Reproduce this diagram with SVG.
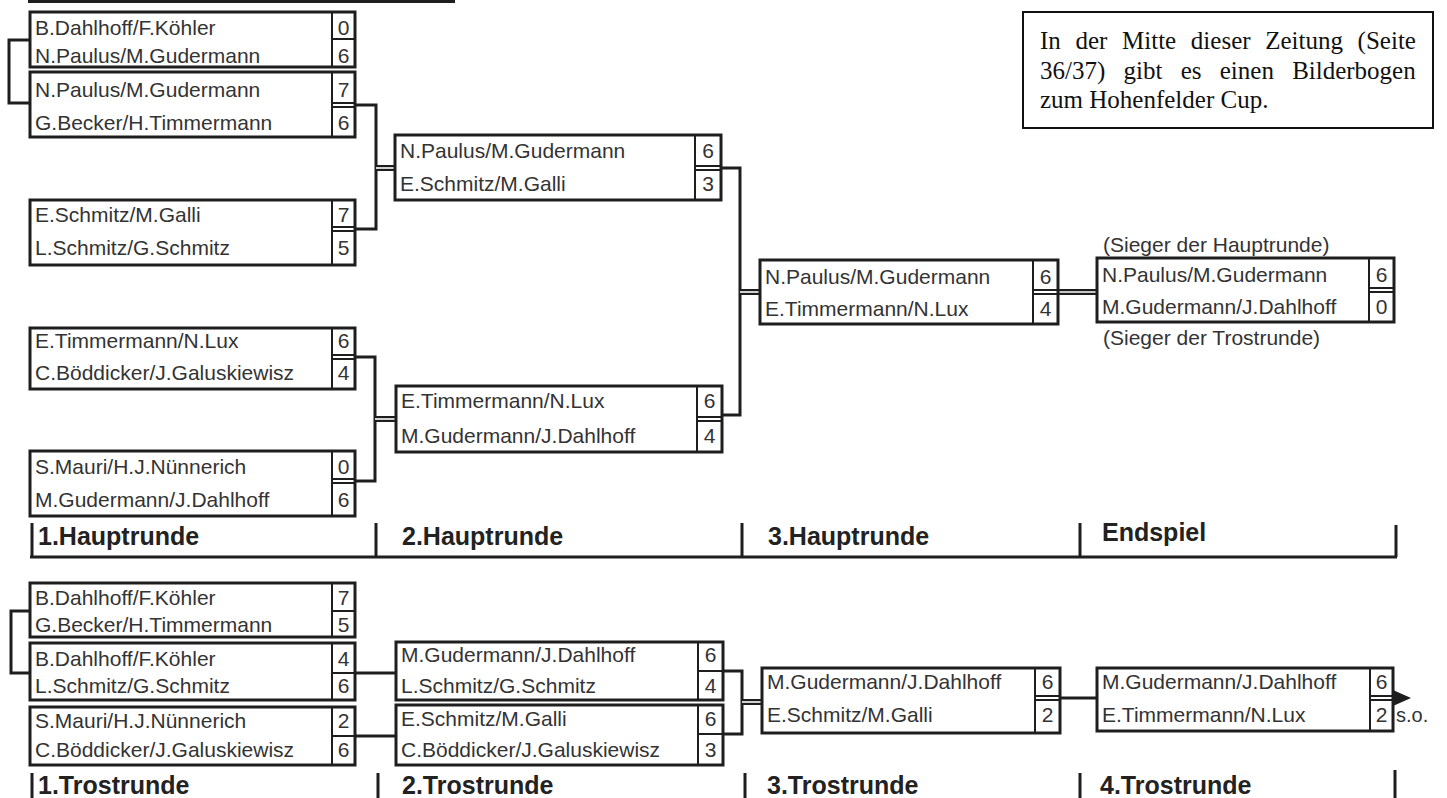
<svg xmlns="http://www.w3.org/2000/svg" width="1447" height="798" viewBox="0 0 1447 798">
<style>
.bx{fill:#fff;stroke:#1e1e1e;stroke-width:3}
.sd{stroke:#1e1e1e;stroke-width:2;fill:none}
.con{stroke:#1e1e1e;stroke-width:3;fill:none}
.dbl{stroke:#1e1e1e;stroke-width:6;fill:none}
.dbw{stroke:#fff;stroke-width:1.6;fill:none}
.nm{font-family:"Liberation Sans",Arial,sans-serif;font-size:21px;fill:#333}
.sc{font-family:"Liberation Sans",Arial,sans-serif;font-size:21px;fill:#333;text-anchor:middle}
.lb{font-family:"Liberation Sans",Arial,sans-serif;font-size:25px;font-weight:bold;fill:#222}
.info{font-family:"Liberation Serif","Times New Roman",serif;font-size:25px;fill:#111}
</style>
<rect width="1447" height="798" fill="#fff"/>
<g id="connectors">
<path class="con" d="M28,1.5H455"/>
<path class="con" d="M30,40H9V103H30"/>
<path class="con" d="M355,105H376V229H355"/>
<path class="dbl" d="M376,168H395"/><path class="dbw" d="M376,168H395"/>
<path class="con" d="M355,357H375V481H355"/>
<path class="dbl" d="M375,419H396"/><path class="dbw" d="M375,419H396"/>
<path class="con" d="M721,168H740V415H722"/>
<path class="dbl" d="M740,292H760"/><path class="dbw" d="M740,292H760"/>
<path class="dbl" d="M1058,292H1097"/><path class="dbw" d="M1058,292H1097"/>
<path class="con" d="M30,611H11V673H30"/>
<path class="con" d="M355,673H396"/>
<path class="con" d="M355,736H396"/>
<path class="con" d="M723,671H742V734H723"/>
<path class="dbl" d="M742,702H762"/><path class="dbw" d="M742,702H762"/>
<path class="con" d="M1060,698H1097"/>
<polygon points="1393,690 1411,698 1393,706" fill="#1e1e1e"/>
</g>
<g id="h1a">
<rect class="bx" x="30" y="12" width="325" height="55"/>
<path class="sd" d="M332,12V67M332,39H355"/>
<text class="nm" x="35" y="35">B.Dahlhoff/F.Köhler</text><text class="sc" x="343.5" y="35">0</text>
<text class="nm" x="35" y="63">N.Paulus/M.Gudermann</text><text class="sc" x="343.5" y="63">6</text>
</g>
<g id="h1b">
<rect class="bx" x="30" y="72" width="325" height="65"/>
<path class="sd" d="M332,72V137M332,103H355M332,107H355"/>
<text class="nm" x="35" y="97">N.Paulus/M.Gudermann</text><text class="sc" x="343.5" y="97">7</text>
<text class="nm" x="35" y="130">G.Becker/H.Timmermann</text><text class="sc" x="343.5" y="130">6</text>
</g>
<g id="h1c">
<rect class="bx" x="30" y="200" width="325" height="65"/>
<path class="sd" d="M332,200V265M332,227H355M332,231H355"/>
<text class="nm" x="35" y="222">E.Schmitz/M.Galli</text><text class="sc" x="343.5" y="222">7</text>
<text class="nm" x="35" y="255">L.Schmitz/G.Schmitz</text><text class="sc" x="343.5" y="255">5</text>
</g>
<g id="h1d">
<rect class="bx" x="30" y="328" width="325" height="61"/>
<path class="sd" d="M332,328V389M332,355H355M332,359H355"/>
<text class="nm" x="35" y="348">E.Timmermann/N.Lux</text><text class="sc" x="343.5" y="348">6</text>
<text class="nm" x="35" y="380">C.Böddicker/J.Galuskiewisz</text><text class="sc" x="343.5" y="380">4</text>
</g>
<g id="h1e">
<rect class="bx" x="30" y="451" width="325" height="65"/>
<path class="sd" d="M332,451V516M332,479H355M332,483H355"/>
<text class="nm" x="35" y="474">S.Mauri/H.J.Nünnerich</text><text class="sc" x="343.5" y="474">0</text>
<text class="nm" x="35" y="507">M.Gudermann/J.Dahlhoff</text><text class="sc" x="343.5" y="507">6</text>
</g>
<g id="r2a">
<rect class="bx" x="395" y="135" width="326" height="65"/>
<path class="sd" d="M695,135V200M695,166H721M695,170H721"/>
<text class="nm" x="400" y="158">N.Paulus/M.Gudermann</text><text class="sc" x="708" y="158">6</text>
<text class="nm" x="400" y="191">E.Schmitz/M.Galli</text><text class="sc" x="708" y="191">3</text>
</g>
<g id="r2b">
<rect class="bx" x="396" y="386" width="326" height="66"/>
<path class="sd" d="M697,386V452M697,417H722M697,421H722"/>
<text class="nm" x="401" y="408">E.Timmermann/N.Lux</text><text class="sc" x="709.5" y="408">6</text>
<text class="nm" x="401" y="443">M.Gudermann/J.Dahlhoff</text><text class="sc" x="709.5" y="443">4</text>
</g>
<g id="r3">
<rect class="bx" x="760" y="260" width="298" height="64"/>
<path class="sd" d="M1033,260V324M1033,290H1058M1033,294H1058"/>
<text class="nm" x="765" y="284">N.Paulus/M.Gudermann</text><text class="sc" x="1045.5" y="284">6</text>
<text class="nm" x="765" y="316">E.Timmermann/N.Lux</text><text class="sc" x="1045.5" y="316">4</text>
</g>
<g id="endspiel">
<text class="nm" x="1103" y="252">(Sieger der Hauptrunde)</text>
<rect class="bx" x="1097" y="258" width="297" height="64"/>
<path class="sd" d="M1369,258V322M1369,288H1394M1369,292H1394"/>
<text class="nm" x="1102" y="282">N.Paulus/M.Gudermann</text><text class="sc" x="1381.5" y="282">6</text>
<text class="nm" x="1102" y="314">M.Gudermann/J.Dahlhoff</text><text class="sc" x="1381.5" y="314">0</text>
<text class="nm" x="1103" y="345">(Sieger der Trostrunde)</text>
</g>
<g id="info">
<rect x="1023" y="12" width="410" height="116" fill="#fff" stroke="#111" stroke-width="2"/>
<text class="info" x="1040" y="49" word-spacing="8.4">In der Mitte dieser Zeitung (Seite</text>
<text class="info" x="1040" y="79" word-spacing="12">36/37) gibt es einen Bilderbogen</text>
<text class="info" x="1040" y="108">zum Hohenfelder Cup.</text>
</g>
<g id="haupt-labels">
<path class="con" d="M30,557H1397M32,523V557M376,523V557M742,523V557M1080,523V557M1396,525V557"/>
<text class="lb" x="38" y="545">1.Hauptrunde</text>
<text class="lb" x="402" y="545">2.Hauptrunde</text>
<text class="lb" x="768" y="545">3.Hauptrunde</text>
<text class="lb" x="1102" y="541">Endspiel</text>
</g>
<g id="t1a">
<rect class="bx" x="30" y="583" width="325" height="54"/>
<path class="sd" d="M332,583V637M332,611H355"/>
<text class="nm" x="35" y="605">B.Dahlhoff/F.Köhler</text><text class="sc" x="343.5" y="605">7</text>
<text class="nm" x="35" y="632">G.Becker/H.Timmermann</text><text class="sc" x="343.5" y="632">5</text>
</g>
<g id="t1b">
<rect class="bx" x="30" y="643" width="325" height="57"/>
<path class="sd" d="M332,643V700M332,673H355"/>
<text class="nm" x="35" y="666">B.Dahlhoff/F.Köhler</text><text class="sc" x="343.5" y="666">4</text>
<text class="nm" x="35" y="693">L.Schmitz/G.Schmitz</text><text class="sc" x="343.5" y="693">6</text>
</g>
<g id="t1c">
<rect class="bx" x="30" y="707" width="325" height="58"/>
<path class="sd" d="M332,707V765M332,736H355"/>
<text class="nm" x="35" y="728">S.Mauri/H.J.Nünnerich</text><text class="sc" x="343.5" y="728">2</text>
<text class="nm" x="35" y="757">C.Böddicker/J.Galuskiewisz</text><text class="sc" x="343.5" y="757">6</text>
</g>
<g id="t2a">
<rect class="bx" x="396" y="642" width="327" height="58"/>
<path class="sd" d="M698,642V700M698,671H723"/>
<text class="nm" x="401" y="662">M.Gudermann/J.Dahlhoff</text><text class="sc" x="710.5" y="662">6</text>
<text class="nm" x="401" y="693">L.Schmitz/G.Schmitz</text><text class="sc" x="710.5" y="693">4</text>
</g>
<g id="t2b">
<rect class="bx" x="396" y="705" width="327" height="60"/>
<path class="sd" d="M698,705V765M698,734H723"/>
<text class="nm" x="401" y="726">E.Schmitz/M.Galli</text><text class="sc" x="710.5" y="726">6</text>
<text class="nm" x="401" y="757">C.Böddicker/J.Galuskiewisz</text><text class="sc" x="710.5" y="757">3</text>
</g>
<g id="t3">
<rect class="bx" x="762" y="668" width="298" height="65"/>
<path class="sd" d="M1035,668V733M1035,696H1060M1035,700H1060"/>
<text class="nm" x="767" y="689">M.Gudermann/J.Dahlhoff</text><text class="sc" x="1047.5" y="689">6</text>
<text class="nm" x="767" y="722">E.Schmitz/M.Galli</text><text class="sc" x="1047.5" y="722">2</text>
</g>
<g id="t4">
<rect class="bx" x="1097" y="668" width="296" height="63"/>
<path class="sd" d="M1370,668V731M1370,696H1393M1370,700H1393"/>
<text class="nm" x="1102" y="689">M.Gudermann/J.Dahlhoff</text><text class="sc" x="1381.5" y="689">6</text>
<text class="nm" x="1102" y="722">E.Timmermann/N.Lux</text><text class="sc" x="1381.5" y="722">2</text>
<text class="nm" x="1396" y="722" style="font-size:20px">s.o.</text>
</g>
<g id="trost-labels">
<path class="con" d="M32,773V798M378,773V798M745,773V798M1080,773V798M1395,770V798"/>
<text class="lb" x="38" y="794">1.Trostrunde</text>
<text class="lb" x="402" y="794">2.Trostrunde</text>
<text class="lb" x="767" y="794">3.Trostrunde</text>
<text class="lb" x="1100" y="794">4.Trostrunde</text>
</g>
</svg>
